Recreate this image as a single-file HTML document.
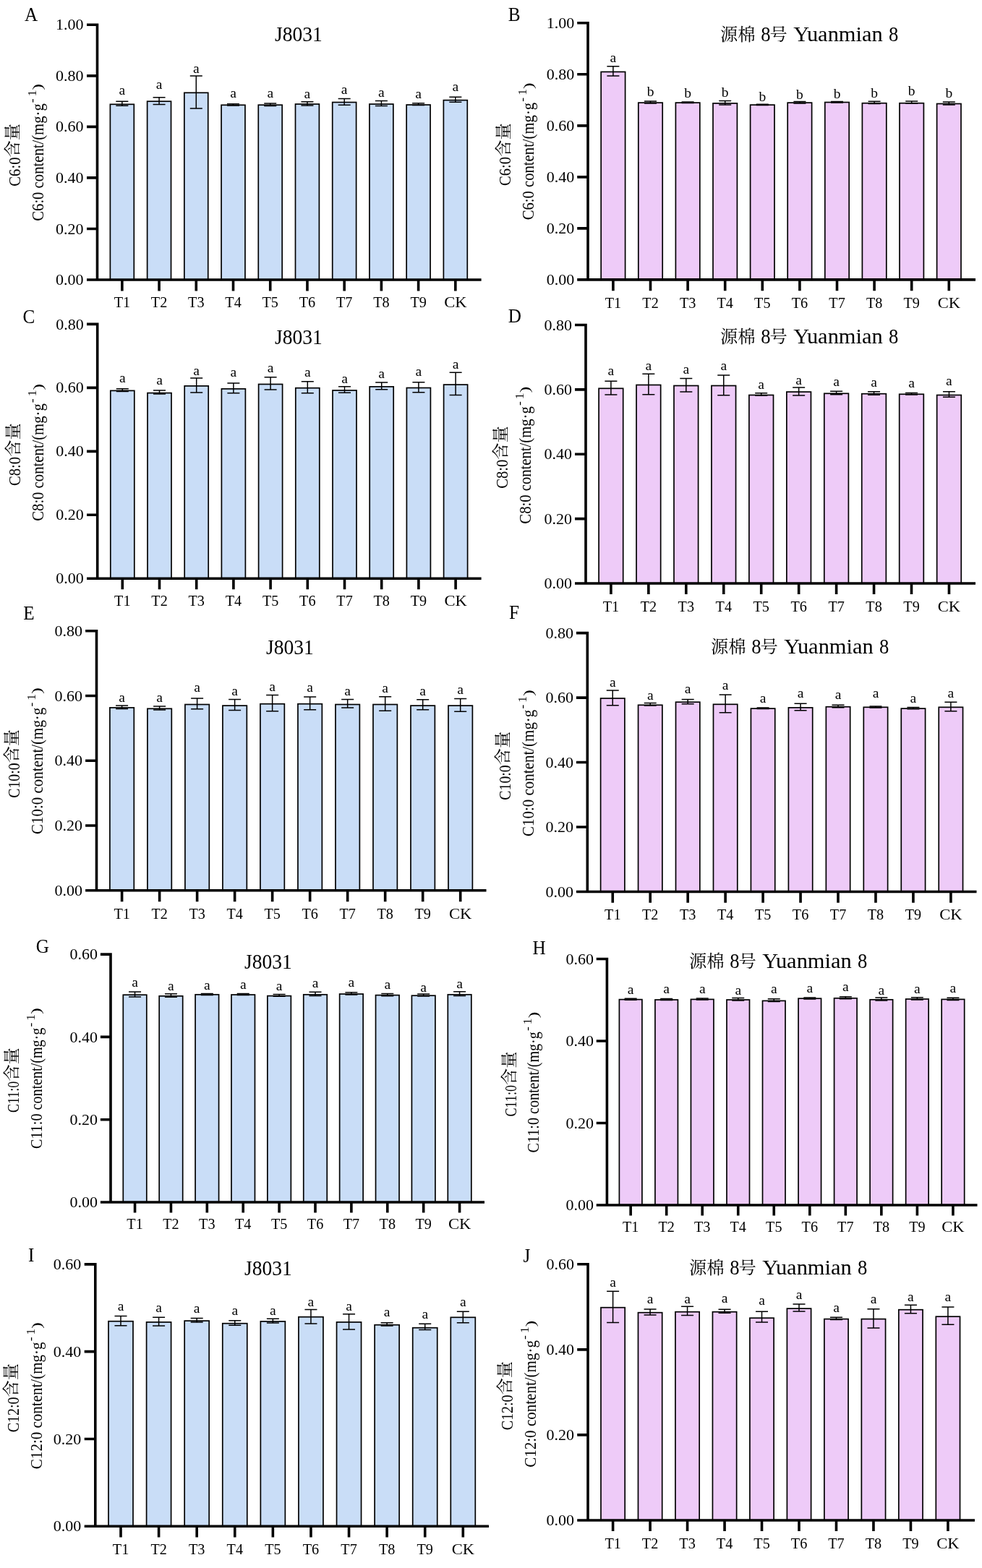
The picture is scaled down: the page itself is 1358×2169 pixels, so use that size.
<!DOCTYPE html>
<html lang="zh"><head><meta charset="utf-8"><title>Fatty acid content of J8031 and Yuanmian 8</title>
<style>html,body{margin:0;padding:0;background:#fff}body{width:1358px;height:2169px;overflow:hidden}svg{display:block;will-change:transform;font-family:"Liberation Serif","Noto Serif CJK SC",serif;fill:#000}.l{fill:none;stroke:#000}</style></head><body>
<svg width="1358" height="2169" viewBox="0 0 1358 2169" role="img" aria-label="Bar charts A-J: C6:0, C8:0, C10:0, C11:0, C12:0 content (mg/g) for J8031 and Yuanmian 8 under treatments T1-T9 and CK">
<g id="pA">
<g fill="#c9ddf7" stroke="#000" stroke-width="1.7">
<rect x="152.4" y="144.3" width="32.9" height="242.7"/>
<rect x="203.62" y="140.2" width="32.9" height="246.8"/>
<rect x="254.84" y="128.3" width="32.9" height="258.7"/>
<rect x="306.06" y="145.3" width="32.9" height="241.7"/>
<rect x="357.28" y="145.2" width="32.9" height="241.8"/>
<rect x="408.5" y="144" width="32.9" height="243"/>
<rect x="459.72" y="141.5" width="32.9" height="245.5"/>
<rect x="510.94" y="144" width="32.9" height="243"/>
<rect x="562.16" y="145" width="32.9" height="242"/>
<rect x="613.38" y="138.6" width="32.9" height="248.4"/>
</g>
<path class="l" d="M160.35 140.2H177.35M160.35 146.3H177.35M168.85 140.2V146.3M211.57 134.7H228.57M211.57 144.6H228.57M220.07 134.7V144.6M262.79 104.9H279.79M262.79 150H279.79M271.29 104.9V150M314.01 143.8H331.01M314.01 146H331.01M322.51 143.8V146M365.23 143H382.23M365.23 146.6H382.23M373.73 143V146.6M416.45 140.7H433.45M416.45 146H433.45M424.95 140.7V146M467.67 136.5H484.67M467.67 145.2H484.67M476.17 136.5V145.2M518.89 139.4H535.89M518.89 146.6H535.89M527.39 139.4V146.6M570.11 142.75H587.11M570.11 145.6H587.11M578.61 142.75V145.6M621.33 134.2H638.33M621.33 141.2H638.33M629.83 134.2V141.2" stroke-width="1.5"/>
<path class="l" d="M134.5 32.5V388.8M120 387H665.6M120 34.3H134.5M120 104.84H134.5M120 175.38H134.5M120 245.92H134.5M120 316.46H134.5M168.85 387V402.4M220.07 387V402.4M271.29 387V402.4M322.51 387V402.4M373.73 387V402.4M424.95 387V402.4M476.17 387V402.4M527.39 387V402.4M578.61 387V402.4M629.83 387V402.4" stroke-width="3.6"/>
<text transform="translate(115.6 41.4)" font-size="22" text-anchor="end">1.00</text>
<text transform="translate(115.6 111.94)" font-size="22" text-anchor="end">0.80</text>
<text transform="translate(115.6 182.48)" font-size="22" text-anchor="end">0.60</text>
<text transform="translate(115.6 253.02)" font-size="22" text-anchor="end">0.40</text>
<text transform="translate(115.6 323.56)" font-size="22" text-anchor="end">0.20</text>
<text transform="translate(115.6 394.1)" font-size="22" text-anchor="end">0.00</text>
<text transform="translate(168.85 425.4) scale(0.94 1)" font-size="21.5" text-anchor="middle">T1</text>
<text transform="translate(220.07 425.4) scale(0.94 1)" font-size="21.5" text-anchor="middle">T2</text>
<text transform="translate(271.29 425.4) scale(0.94 1)" font-size="21.5" text-anchor="middle">T3</text>
<text transform="translate(322.51 425.4) scale(0.94 1)" font-size="21.5" text-anchor="middle">T4</text>
<text transform="translate(373.73 425.4) scale(0.94 1)" font-size="21.5" text-anchor="middle">T5</text>
<text transform="translate(424.95 425.4) scale(0.94 1)" font-size="21.5" text-anchor="middle">T6</text>
<text transform="translate(476.17 425.4) scale(0.94 1)" font-size="21.5" text-anchor="middle">T7</text>
<text transform="translate(527.39 425.4) scale(0.94 1)" font-size="21.5" text-anchor="middle">T8</text>
<text transform="translate(578.61 425.4) scale(0.94 1)" font-size="21.5" text-anchor="middle">T9</text>
<text transform="translate(629.83 425.4) scale(1.05 1)" font-size="21.5" text-anchor="middle">CK</text>
<text transform="translate(168.85 131.3)" font-size="19.5" text-anchor="middle">a</text>
<text transform="translate(220.07 123.3)" font-size="19.5" text-anchor="middle">a</text>
<text transform="translate(271.29 100.9)" font-size="19.5" text-anchor="middle">a</text>
<text transform="translate(322.51 134.7)" font-size="19.5" text-anchor="middle">a</text>
<text transform="translate(373.73 135.3)" font-size="19.5" text-anchor="middle">a</text>
<text transform="translate(424.95 136)" font-size="19.5" text-anchor="middle">a</text>
<text transform="translate(476.17 129.7)" font-size="19.5" text-anchor="middle">a</text>
<text transform="translate(527.39 134)" font-size="19.5" text-anchor="middle">a</text>
<text transform="translate(578.61 135.5)" font-size="19.5" text-anchor="middle">a</text>
<text transform="translate(629.83 125.6)" font-size="19.5" text-anchor="middle">a</text>
<text transform="translate(34.1 29) scale(0.9 1)" font-size="28">A</text>
<text transform="translate(413 57) scale(0.95 1)" font-size="29" text-anchor="middle">J8031</text>
<g transform="translate(27.5 214.2) rotate(-90)">
<text transform="translate(-43.45 0)" font-size="23.5" textLength="40.1" lengthAdjust="spacingAndGlyphs">C6:0</text>
<text transform="translate(-3.25 -2.2)" font-size="23.2">含</text>
<text transform="translate(19.95 -2.2)" font-size="23.2">量</text>
</g>
<g transform="translate(59.7 211.4) rotate(-90)">
<text transform="translate(-94.35 0)" font-size="23.5" textLength="162.5" lengthAdjust="spacingAndGlyphs">C6:0 content/(mg·g</text>
<text transform="translate(69.25 -10)" font-size="17.5">-</text>
<text transform="translate(78.15 -10)" font-size="17.5">1</text>
<text transform="translate(86.95 -1.5) scale(1.4 1)" font-size="18.5">)</text>
</g>
</g>
<g id="pB">
<g fill="#eecbf8" stroke="#000" stroke-width="1.7">
<rect x="831.2" y="99.4" width="33.4" height="287.5"/>
<rect x="882.8" y="142.1" width="33.4" height="244.8"/>
<rect x="934.4" y="142.1" width="33.4" height="244.8"/>
<rect x="986" y="142.9" width="33.4" height="244"/>
<rect x="1037.6" y="145.1" width="33.4" height="241.8"/>
<rect x="1089.2" y="142.1" width="33.4" height="244.8"/>
<rect x="1140.8" y="141.5" width="33.4" height="245.4"/>
<rect x="1192.4" y="142.7" width="33.4" height="244.2"/>
<rect x="1244" y="142.7" width="33.4" height="244.2"/>
<rect x="1295.6" y="143.5" width="33.4" height="243.4"/>
</g>
<path class="l" d="M839.4 91.8H856.4M839.4 105.1H856.4M847.9 91.8V105.1M891 139.9H908M891 143H908M899.5 139.9V143M942.6 141.1H959.6M942.6 142.5H959.6M951.1 141.1V142.5M994.2 139.5H1011.2M994.2 144.9H1011.2M1002.7 139.5V144.9M1045.8 144.3H1062.8M1045.8 145.5H1062.8M1054.3 144.3V145.5M1097.4 140.5H1114.4M1097.4 143H1114.4M1105.9 140.5V143M1149 140.5H1166M1149 142H1166M1157.5 140.5V142M1200.6 140.3H1217.6M1200.6 143.5H1217.6M1209.1 140.3V143.5M1252.2 139.9H1269.2M1252.2 143.1H1269.2M1260.7 139.9V143.1M1303.8 140.9H1320.8M1303.8 144.9H1320.8M1312.3 140.9V144.9" stroke-width="1.5"/>
<path class="l" d="M813 30V388.7M798.2 386.9H1349M798.2 31.8H813M798.2 102.82H813M798.2 173.84H813M798.2 244.86H813M798.2 315.88H813M847.9 386.9V402.25M899.5 386.9V402.25M951.1 386.9V402.25M1002.7 386.9V402.25M1054.3 386.9V402.25M1105.9 386.9V402.25M1157.5 386.9V402.25M1209.1 386.9V402.25M1260.7 386.9V402.25M1312.3 386.9V402.25" stroke-width="3.6"/>
<text transform="translate(794.2 38.9)" font-size="22" text-anchor="end">1.00</text>
<text transform="translate(794.2 109.92)" font-size="22" text-anchor="end">0.80</text>
<text transform="translate(794.2 180.94)" font-size="22" text-anchor="end">0.60</text>
<text transform="translate(794.2 251.96)" font-size="22" text-anchor="end">0.40</text>
<text transform="translate(794.2 322.98)" font-size="22" text-anchor="end">0.20</text>
<text transform="translate(794.2 394)" font-size="22" text-anchor="end">0.00</text>
<text transform="translate(847.9 425.6) scale(0.94 1)" font-size="21.5" text-anchor="middle">T1</text>
<text transform="translate(899.5 425.6) scale(0.94 1)" font-size="21.5" text-anchor="middle">T2</text>
<text transform="translate(951.1 425.6) scale(0.94 1)" font-size="21.5" text-anchor="middle">T3</text>
<text transform="translate(1002.7 425.6) scale(0.94 1)" font-size="21.5" text-anchor="middle">T4</text>
<text transform="translate(1054.3 425.6) scale(0.94 1)" font-size="21.5" text-anchor="middle">T5</text>
<text transform="translate(1105.9 425.6) scale(0.94 1)" font-size="21.5" text-anchor="middle">T6</text>
<text transform="translate(1157.5 425.6) scale(0.94 1)" font-size="21.5" text-anchor="middle">T7</text>
<text transform="translate(1209.1 425.6) scale(0.94 1)" font-size="21.5" text-anchor="middle">T8</text>
<text transform="translate(1260.7 425.6) scale(0.94 1)" font-size="21.5" text-anchor="middle">T9</text>
<text transform="translate(1312.3 425.6) scale(1.05 1)" font-size="21.5" text-anchor="middle">CK</text>
<text transform="translate(847.9 85.8)" font-size="19.5" text-anchor="middle">a</text>
<text transform="translate(899.5 132.6)" font-size="19.5" text-anchor="middle">b</text>
<text transform="translate(951.1 134.6)" font-size="19.5" text-anchor="middle">b</text>
<text transform="translate(1002.7 133.6)" font-size="19.5" text-anchor="middle">b</text>
<text transform="translate(1054.3 140.1)" font-size="19.5" text-anchor="middle">b</text>
<text transform="translate(1105.9 137.1)" font-size="19.5" text-anchor="middle">b</text>
<text transform="translate(1157.5 136.1)" font-size="19.5" text-anchor="middle">b</text>
<text transform="translate(1209.1 135.1)" font-size="19.5" text-anchor="middle">b</text>
<text transform="translate(1260.7 132.2)" font-size="19.5" text-anchor="middle">b</text>
<text transform="translate(1312.3 135.1)" font-size="19.5" text-anchor="middle">b</text>
<text transform="translate(702.8 28.75) scale(0.9 1)" font-size="28">B</text>
<text transform="translate(996 55.5)" font-size="24.3">源</text>
<text transform="translate(1020.3 55.5)" font-size="24.3">棉</text>
<text transform="translate(1052.2 56.7) scale(0.92 1)" font-size="29">8</text>
<text transform="translate(1064.6 55.5)" font-size="24.3">号</text>
<text transform="translate(1097.3 56.7) scale(1.05 1)" font-size="29">Yuanmian</text>
<text transform="translate(1229 56.7) scale(0.92 1)" font-size="29">8</text>
<g transform="translate(706 213.5) rotate(-90)">
<text transform="translate(-43.45 0)" font-size="23.5" textLength="40.1" lengthAdjust="spacingAndGlyphs">C6:0</text>
<text transform="translate(-3.25 -2.2)" font-size="23.2">含</text>
<text transform="translate(19.95 -2.2)" font-size="23.2">量</text>
</g>
<g transform="translate(738.1 210) rotate(-90)">
<text transform="translate(-94.35 0)" font-size="23.5" textLength="162.5" lengthAdjust="spacingAndGlyphs">C6:0 content/(mg·g</text>
<text transform="translate(69.25 -10)" font-size="17.5">-</text>
<text transform="translate(78.15 -10)" font-size="17.5">1</text>
<text transform="translate(86.95 -1.5) scale(1.4 1)" font-size="18.5">)</text>
</g>
</g>
<g id="pC">
<g fill="#c9ddf7" stroke="#000" stroke-width="1.7">
<rect x="152.8" y="540.4" width="33" height="259.9"/>
<rect x="204" y="543.6" width="33" height="256.7"/>
<rect x="255.2" y="533.9" width="33" height="266.4"/>
<rect x="306.4" y="537.9" width="33" height="262.4"/>
<rect x="357.6" y="531.5" width="33" height="268.8"/>
<rect x="408.8" y="536.7" width="33" height="263.6"/>
<rect x="460" y="540" width="33" height="260.3"/>
<rect x="511.2" y="534.9" width="33" height="265.4"/>
<rect x="562.4" y="536.5" width="33" height="263.8"/>
<rect x="613.6" y="532.1" width="33" height="268.2"/>
</g>
<path class="l" d="M160.8 537.7H177.8M160.8 541.5H177.8M169.3 537.7V541.5M212 540H229M212 545H229M220.5 540V545M263.2 522.9H280.2M263.2 543H280.2M271.7 522.9V543M314.4 530.1H331.4M314.4 543.8H331.4M322.9 530.1V543.8M365.6 521.7H382.6M365.6 539H382.6M374.1 521.7V539M416.8 527.7H433.8M416.8 543.8H433.8M425.3 527.7V543.8M468 534.7H485M468 543.2H485M476.5 534.7V543.2M519.2 528.9H536.2M519.2 538.8H536.2M527.7 528.9V538.8M570.4 528.7H587.4M570.4 542.8H587.4M578.9 528.7V542.8M621.6 515.2H638.6M621.6 546.6H638.6M630.1 515.2V546.6" stroke-width="1.5"/>
<path class="l" d="M134.7 446.6V802.1M120 800.3H665.6M120 448.4H134.7M120 536.38H134.7M120 624.35H134.7M120 712.32H134.7M169.3 800.3V815.25M220.5 800.3V815.25M271.7 800.3V815.25M322.9 800.3V815.25M374.1 800.3V815.25M425.3 800.3V815.25M476.5 800.3V815.25M527.7 800.3V815.25M578.9 800.3V815.25M630.1 800.3V815.25" stroke-width="3.6"/>
<text transform="translate(115.8 455.5)" font-size="22" text-anchor="end">0.80</text>
<text transform="translate(115.8 543.48)" font-size="22" text-anchor="end">0.60</text>
<text transform="translate(115.8 631.45)" font-size="22" text-anchor="end">0.40</text>
<text transform="translate(115.8 719.42)" font-size="22" text-anchor="end">0.20</text>
<text transform="translate(115.8 807.4)" font-size="22" text-anchor="end">0.00</text>
<text transform="translate(169.3 838.4) scale(0.94 1)" font-size="21.5" text-anchor="middle">T1</text>
<text transform="translate(220.5 838.4) scale(0.94 1)" font-size="21.5" text-anchor="middle">T2</text>
<text transform="translate(271.7 838.4) scale(0.94 1)" font-size="21.5" text-anchor="middle">T3</text>
<text transform="translate(322.9 838.4) scale(0.94 1)" font-size="21.5" text-anchor="middle">T4</text>
<text transform="translate(374.1 838.4) scale(0.94 1)" font-size="21.5" text-anchor="middle">T5</text>
<text transform="translate(425.3 838.4) scale(0.94 1)" font-size="21.5" text-anchor="middle">T6</text>
<text transform="translate(476.5 838.4) scale(0.94 1)" font-size="21.5" text-anchor="middle">T7</text>
<text transform="translate(527.7 838.4) scale(0.94 1)" font-size="21.5" text-anchor="middle">T8</text>
<text transform="translate(578.9 838.4) scale(0.94 1)" font-size="21.5" text-anchor="middle">T9</text>
<text transform="translate(630.1 838.4) scale(1.05 1)" font-size="21.5" text-anchor="middle">CK</text>
<text transform="translate(169.3 528.7)" font-size="19.5" text-anchor="middle">a</text>
<text transform="translate(220.5 532.3)" font-size="19.5" text-anchor="middle">a</text>
<text transform="translate(271.7 518.8)" font-size="19.5" text-anchor="middle">a</text>
<text transform="translate(322.9 521.4)" font-size="19.5" text-anchor="middle">a</text>
<text transform="translate(374.1 515.2)" font-size="19.5" text-anchor="middle">a</text>
<text transform="translate(425.3 521.4)" font-size="19.5" text-anchor="middle">a</text>
<text transform="translate(476.5 530.3)" font-size="19.5" text-anchor="middle">a</text>
<text transform="translate(527.7 523.1)" font-size="19.5" text-anchor="middle">a</text>
<text transform="translate(578.9 520.4)" font-size="19.5" text-anchor="middle">a</text>
<text transform="translate(630.1 509.8)" font-size="19.5" text-anchor="middle">a</text>
<text transform="translate(31.6 446.6) scale(0.9 1)" font-size="28">C</text>
<text transform="translate(413 476) scale(0.95 1)" font-size="29" text-anchor="middle">J8031</text>
<g transform="translate(28.1 628.5) rotate(-90)">
<text transform="translate(-43.45 0)" font-size="23.5" textLength="40.1" lengthAdjust="spacingAndGlyphs">C8:0</text>
<text transform="translate(-3.25 -2.2)" font-size="23.2">含</text>
<text transform="translate(19.95 -2.2)" font-size="23.2">量</text>
</g>
<g transform="translate(60.4 626.4) rotate(-90)">
<text transform="translate(-94.35 0)" font-size="23.5" textLength="162.5" lengthAdjust="spacingAndGlyphs">C8:0 content/(mg·g</text>
<text transform="translate(69.25 -10)" font-size="17.5">-</text>
<text transform="translate(78.15 -10)" font-size="17.5">1</text>
<text transform="translate(86.95 -1.5) scale(1.4 1)" font-size="18.5">)</text>
</g>
</g>
<g id="pD">
<g fill="#eecbf8" stroke="#000" stroke-width="1.7">
<rect x="828.1" y="537.3" width="33.6" height="269.7"/>
<rect x="880.05" y="532.5" width="33.6" height="274.5"/>
<rect x="932" y="533.5" width="33.6" height="273.5"/>
<rect x="983.95" y="533.5" width="33.6" height="273.5"/>
<rect x="1035.9" y="546.5" width="33.6" height="260.5"/>
<rect x="1087.85" y="542.1" width="33.6" height="264.9"/>
<rect x="1139.8" y="544.3" width="33.6" height="262.7"/>
<rect x="1191.75" y="544.7" width="33.6" height="262.3"/>
<rect x="1243.7" y="545.3" width="33.6" height="261.7"/>
<rect x="1295.65" y="546.5" width="33.6" height="260.5"/>
</g>
<path class="l" d="M836.4 527.2H853.4M836.4 546.1H853.4M844.9 527.2V546.1M888.35 517.2H905.35M888.35 545.7H905.35M896.85 517.2V545.7M940.3 523.4H957.3M940.3 542.1H957.3M948.8 523.4V542.1M992.25 519H1009.25M992.25 546.7H1009.25M1000.75 519V546.7M1044.2 543.7H1061.2M1044.2 547.3H1061.2M1052.7 543.7V547.3M1096.15 536.1H1113.15M1096.15 546.9H1113.15M1104.65 536.1V546.9M1148.1 541.3H1165.1M1148.1 545.7H1165.1M1156.6 541.3V545.7M1200.05 541.7H1217.05M1200.05 546.3H1217.05M1208.55 541.7V546.3M1252 543.5H1269M1252 546H1269M1260.5 543.5V546M1303.95 541.7H1320.95M1303.95 549.2H1320.95M1312.45 541.7V549.2" stroke-width="1.5"/>
<path class="l" d="M810 447.7V808.8M795 807H1349M795 449.5H810M795 538.88H810M795 628.25H810M795 717.62H810M844.9 807V822.1M896.85 807V822.1M948.8 807V822.1M1000.75 807V822.1M1052.7 807V822.1M1104.65 807V822.1M1156.6 807V822.1M1208.55 807V822.1M1260.5 807V822.1M1312.45 807V822.1" stroke-width="3.6"/>
<text transform="translate(791 456.6)" font-size="22" text-anchor="end">0.80</text>
<text transform="translate(791 545.98)" font-size="22" text-anchor="end">0.60</text>
<text transform="translate(791 635.35)" font-size="22" text-anchor="end">0.40</text>
<text transform="translate(791 724.73)" font-size="22" text-anchor="end">0.20</text>
<text transform="translate(791 814.1)" font-size="22" text-anchor="end">0.00</text>
<text transform="translate(844.9 845.6) scale(0.94 1)" font-size="21.5" text-anchor="middle">T1</text>
<text transform="translate(896.85 845.6) scale(0.94 1)" font-size="21.5" text-anchor="middle">T2</text>
<text transform="translate(948.8 845.6) scale(0.94 1)" font-size="21.5" text-anchor="middle">T3</text>
<text transform="translate(1000.75 845.6) scale(0.94 1)" font-size="21.5" text-anchor="middle">T4</text>
<text transform="translate(1052.7 845.6) scale(0.94 1)" font-size="21.5" text-anchor="middle">T5</text>
<text transform="translate(1104.65 845.6) scale(0.94 1)" font-size="21.5" text-anchor="middle">T6</text>
<text transform="translate(1156.6 845.6) scale(0.94 1)" font-size="21.5" text-anchor="middle">T7</text>
<text transform="translate(1208.55 845.6) scale(0.94 1)" font-size="21.5" text-anchor="middle">T8</text>
<text transform="translate(1260.5 845.6) scale(0.94 1)" font-size="21.5" text-anchor="middle">T9</text>
<text transform="translate(1312.45 845.6) scale(1.05 1)" font-size="21.5" text-anchor="middle">CK</text>
<text transform="translate(844.9 518.8)" font-size="19.5" text-anchor="middle">a</text>
<text transform="translate(896.85 511.9)" font-size="19.5" text-anchor="middle">a</text>
<text transform="translate(948.8 517.2)" font-size="19.5" text-anchor="middle">a</text>
<text transform="translate(1000.75 511.5)" font-size="19.5" text-anchor="middle">a</text>
<text transform="translate(1052.7 538.3)" font-size="19.5" text-anchor="middle">a</text>
<text transform="translate(1104.65 531.7)" font-size="19.5" text-anchor="middle">a</text>
<text transform="translate(1156.6 533.7)" font-size="19.5" text-anchor="middle">a</text>
<text transform="translate(1208.55 534.7)" font-size="19.5" text-anchor="middle">a</text>
<text transform="translate(1260.5 535.7)" font-size="19.5" text-anchor="middle">a</text>
<text transform="translate(1312.45 532.7)" font-size="19.5" text-anchor="middle">a</text>
<text transform="translate(702.8 445.9) scale(0.9 1)" font-size="28">D</text>
<text transform="translate(996 473.8)" font-size="24.3">源</text>
<text transform="translate(1020.3 473.8)" font-size="24.3">棉</text>
<text transform="translate(1052.2 475) scale(0.92 1)" font-size="29">8</text>
<text transform="translate(1064.6 473.8)" font-size="24.3">号</text>
<text transform="translate(1097.3 475) scale(1.05 1)" font-size="29">Yuanmian</text>
<text transform="translate(1229 475) scale(0.92 1)" font-size="29">8</text>
<g transform="translate(701.7 632.4) rotate(-90)">
<text transform="translate(-43.45 0)" font-size="23.5" textLength="40.1" lengthAdjust="spacingAndGlyphs">C8:0</text>
<text transform="translate(-3.25 -2.2)" font-size="23.2">含</text>
<text transform="translate(19.95 -2.2)" font-size="23.2">量</text>
</g>
<g transform="translate(733.9 630.3) rotate(-90)">
<text transform="translate(-94.35 0)" font-size="23.5" textLength="162.5" lengthAdjust="spacingAndGlyphs">C8:0 content/(mg·g</text>
<text transform="translate(69.25 -10)" font-size="17.5">-</text>
<text transform="translate(78.15 -10)" font-size="17.5">1</text>
<text transform="translate(86.95 -1.5) scale(1.4 1)" font-size="18.5">)</text>
</g>
</g>
<g id="pE">
<g fill="#c9ddf7" stroke="#000" stroke-width="1.7">
<rect x="151.9" y="978.9" width="33.4" height="252.9"/>
<rect x="203.91" y="980.3" width="33.4" height="251.5"/>
<rect x="255.92" y="974.5" width="33.4" height="257.3"/>
<rect x="307.93" y="976.1" width="33.4" height="255.7"/>
<rect x="359.94" y="973.7" width="33.4" height="258.1"/>
<rect x="411.95" y="973.7" width="33.4" height="258.1"/>
<rect x="463.96" y="974.5" width="33.4" height="257.3"/>
<rect x="515.97" y="974.5" width="33.4" height="257.3"/>
<rect x="567.98" y="976.1" width="33.4" height="255.7"/>
<rect x="619.99" y="976.1" width="33.4" height="255.7"/>
</g>
<path class="l" d="M160.1 976.1H177.1M160.1 980.5H177.1M168.6 976.1V980.5M212.11 976.9H229.11M212.11 982H229.11M220.61 976.9V982M264.12 966H281.12M264.12 980.7H281.12M272.62 966V980.7M316.13 967.4H333.13M316.13 982.5H333.13M324.63 967.4V982.5M368.14 961.4H385.14M368.14 983.7H385.14M376.64 961.4V983.7M420.15 964H437.15M420.15 981.7H437.15M428.65 964V981.7M472.16 967.4H489.16M472.16 979.1H489.16M480.66 967.4V979.1M524.17 963.8H541.17M524.17 983.3H541.17M532.67 963.8V983.3M576.18 967.8H593.18M576.18 981.7H593.18M584.68 967.8V981.7M628.19 966.4H645.19M628.19 984.3H645.19M636.69 966.4V984.3" stroke-width="1.5"/>
<path class="l" d="M133.5 871V1233.6M118.1 1231.8H672.5M118.1 872.8H133.5M118.1 962.55H133.5M118.1 1052.3H133.5M118.1 1142.05H133.5M168.6 1231.8V1247.25M220.61 1231.8V1247.25M272.62 1231.8V1247.25M324.63 1231.8V1247.25M376.64 1231.8V1247.25M428.65 1231.8V1247.25M480.66 1231.8V1247.25M532.67 1231.8V1247.25M584.68 1231.8V1247.25M636.69 1231.8V1247.25" stroke-width="3.6"/>
<text transform="translate(114.1 879.9)" font-size="22" text-anchor="end">0.80</text>
<text transform="translate(114.1 969.65)" font-size="22" text-anchor="end">0.60</text>
<text transform="translate(114.1 1059.4)" font-size="22" text-anchor="end">0.40</text>
<text transform="translate(114.1 1149.15)" font-size="22" text-anchor="end">0.20</text>
<text transform="translate(114.1 1238.9)" font-size="22" text-anchor="end">0.00</text>
<text transform="translate(168.6 1270.6) scale(0.94 1)" font-size="21.5" text-anchor="middle">T1</text>
<text transform="translate(220.61 1270.6) scale(0.94 1)" font-size="21.5" text-anchor="middle">T2</text>
<text transform="translate(272.62 1270.6) scale(0.94 1)" font-size="21.5" text-anchor="middle">T3</text>
<text transform="translate(324.63 1270.6) scale(0.94 1)" font-size="21.5" text-anchor="middle">T4</text>
<text transform="translate(376.64 1270.6) scale(0.94 1)" font-size="21.5" text-anchor="middle">T5</text>
<text transform="translate(428.65 1270.6) scale(0.94 1)" font-size="21.5" text-anchor="middle">T6</text>
<text transform="translate(480.66 1270.6) scale(0.94 1)" font-size="21.5" text-anchor="middle">T7</text>
<text transform="translate(532.67 1270.6) scale(0.94 1)" font-size="21.5" text-anchor="middle">T8</text>
<text transform="translate(584.68 1270.6) scale(0.94 1)" font-size="21.5" text-anchor="middle">T9</text>
<text transform="translate(636.69 1270.6) scale(1.05 1)" font-size="21.5" text-anchor="middle">CK</text>
<text transform="translate(168.6 970.8)" font-size="19.5" text-anchor="middle">a</text>
<text transform="translate(220.61 970.8)" font-size="19.5" text-anchor="middle">a</text>
<text transform="translate(272.62 957.2)" font-size="19.5" text-anchor="middle">a</text>
<text transform="translate(324.63 962.2)" font-size="19.5" text-anchor="middle">a</text>
<text transform="translate(376.64 955.8)" font-size="19.5" text-anchor="middle">a</text>
<text transform="translate(428.65 957.2)" font-size="19.5" text-anchor="middle">a</text>
<text transform="translate(480.66 961.8)" font-size="19.5" text-anchor="middle">a</text>
<text transform="translate(532.67 957.8)" font-size="19.5" text-anchor="middle">a</text>
<text transform="translate(584.68 961.8)" font-size="19.5" text-anchor="middle">a</text>
<text transform="translate(636.69 959.8)" font-size="19.5" text-anchor="middle">a</text>
<text transform="translate(32.2 856.6) scale(0.9 1)" font-size="28">E</text>
<text transform="translate(401 905) scale(0.95 1)" font-size="29" text-anchor="middle">J8031</text>
<g transform="translate(26.5 1056.2) rotate(-90)">
<text transform="translate(-47.55 0)" font-size="23.5" textLength="48.3" lengthAdjust="spacingAndGlyphs">C10:0</text>
<text transform="translate(0.85 -2.2)" font-size="23.2">含</text>
<text transform="translate(24.05 -2.2)" font-size="23.2">量</text>
</g>
<g transform="translate(58.9 1053.2) rotate(-90)">
<text transform="translate(-100.75 0)" font-size="23.5" textLength="175.3" lengthAdjust="spacingAndGlyphs">C10:0 content/(mg·g</text>
<text transform="translate(75.65 -10)" font-size="17.5">-</text>
<text transform="translate(84.55 -10)" font-size="17.5">1</text>
<text transform="translate(93.35 -1.5) scale(1.4 1)" font-size="18.5">)</text>
</g>
</g>
<g id="pF">
<g fill="#eecbf8" stroke="#000" stroke-width="1.7">
<rect x="830.6" y="966" width="33.3" height="267.5"/>
<rect x="882.56" y="975.3" width="33.3" height="258.2"/>
<rect x="934.52" y="971.2" width="33.3" height="262.3"/>
<rect x="986.48" y="974.3" width="33.3" height="259.2"/>
<rect x="1038.44" y="980.1" width="33.3" height="253.4"/>
<rect x="1090.4" y="978.9" width="33.3" height="254.6"/>
<rect x="1142.36" y="977.7" width="33.3" height="255.8"/>
<rect x="1194.32" y="978.3" width="33.3" height="255.2"/>
<rect x="1246.28" y="980.1" width="33.3" height="253.4"/>
<rect x="1298.24" y="978.3" width="33.3" height="255.2"/>
</g>
<path class="l" d="M838.75 954.9H855.75M838.75 975.7H855.75M847.25 954.9V975.7M890.71 972.5H907.71M890.71 976.1H907.71M899.21 972.5V976.1M942.67 967.4H959.67M942.67 973.7H959.67M951.17 967.4V973.7M994.63 961H1011.63M994.63 985.7H1011.63M1003.13 961V985.7M1046.59 979.1H1063.59M1046.59 980.5H1063.59M1055.09 979.1V980.5M1098.55 973.3H1115.55M1098.55 982.7H1115.55M1107.05 973.3V982.7M1150.51 975.3H1167.51M1150.51 978.7H1167.51M1159.01 975.3V978.7M1202.47 976.9H1219.47M1202.47 979H1219.47M1210.97 976.9V979M1254.43 978.5H1271.43M1254.43 980.8H1271.43M1262.93 978.5V980.8M1306.39 971.2H1323.39M1306.39 983.7H1323.39M1314.89 971.2V983.7" stroke-width="1.5"/>
<path class="l" d="M812.3 873.8V1235.3M796.9 1233.5H1350.5M796.9 875.6H812.3M796.9 965.08H812.3M796.9 1054.55H812.3M796.9 1144.03H812.3M847.25 1233.5V1248.75M899.21 1233.5V1248.75M951.17 1233.5V1248.75M1003.13 1233.5V1248.75M1055.09 1233.5V1248.75M1107.05 1233.5V1248.75M1159.01 1233.5V1248.75M1210.97 1233.5V1248.75M1262.93 1233.5V1248.75M1314.89 1233.5V1248.75" stroke-width="3.6"/>
<text transform="translate(793 882.7)" font-size="22" text-anchor="end">0.80</text>
<text transform="translate(793 972.18)" font-size="22" text-anchor="end">0.60</text>
<text transform="translate(793 1061.65)" font-size="22" text-anchor="end">0.40</text>
<text transform="translate(793 1151.12)" font-size="22" text-anchor="end">0.20</text>
<text transform="translate(793 1240.6)" font-size="22" text-anchor="end">0.00</text>
<text transform="translate(847.25 1272.1) scale(0.94 1)" font-size="21.5" text-anchor="middle">T1</text>
<text transform="translate(899.21 1272.1) scale(0.94 1)" font-size="21.5" text-anchor="middle">T2</text>
<text transform="translate(951.17 1272.1) scale(0.94 1)" font-size="21.5" text-anchor="middle">T3</text>
<text transform="translate(1003.13 1272.1) scale(0.94 1)" font-size="21.5" text-anchor="middle">T4</text>
<text transform="translate(1055.09 1272.1) scale(0.94 1)" font-size="21.5" text-anchor="middle">T5</text>
<text transform="translate(1107.05 1272.1) scale(0.94 1)" font-size="21.5" text-anchor="middle">T6</text>
<text transform="translate(1159.01 1272.1) scale(0.94 1)" font-size="21.5" text-anchor="middle">T7</text>
<text transform="translate(1210.97 1272.1) scale(0.94 1)" font-size="21.5" text-anchor="middle">T8</text>
<text transform="translate(1262.93 1272.1) scale(0.94 1)" font-size="21.5" text-anchor="middle">T9</text>
<text transform="translate(1314.89 1272.1) scale(1.05 1)" font-size="21.5" text-anchor="middle">CK</text>
<text transform="translate(847.25 949.9)" font-size="19.5" text-anchor="middle">a</text>
<text transform="translate(899.21 967.8)" font-size="19.5" text-anchor="middle">a</text>
<text transform="translate(951.17 958.8)" font-size="19.5" text-anchor="middle">a</text>
<text transform="translate(1003.13 954.3)" font-size="19.5" text-anchor="middle">a</text>
<text transform="translate(1055.09 972.3)" font-size="19.5" text-anchor="middle">a</text>
<text transform="translate(1107.05 965.4)" font-size="19.5" text-anchor="middle">a</text>
<text transform="translate(1159.01 966.8)" font-size="19.5" text-anchor="middle">a</text>
<text transform="translate(1210.97 965.2)" font-size="19.5" text-anchor="middle">a</text>
<text transform="translate(1262.93 972.3)" font-size="19.5" text-anchor="middle">a</text>
<text transform="translate(1314.89 964.8)" font-size="19.5" text-anchor="middle">a</text>
<text transform="translate(704.1 856.25) scale(0.9 1)" font-size="28">F</text>
<text transform="translate(983 902.8)" font-size="24.3">源</text>
<text transform="translate(1007.3 902.8)" font-size="24.3">棉</text>
<text transform="translate(1039.2 904) scale(0.92 1)" font-size="29">8</text>
<text transform="translate(1051.6 902.8)" font-size="24.3">号</text>
<text transform="translate(1084.3 904) scale(1.05 1)" font-size="29">Yuanmian</text>
<text transform="translate(1216 904) scale(0.92 1)" font-size="29">8</text>
<g transform="translate(705.5 1059.1) rotate(-90)">
<text transform="translate(-47.55 0)" font-size="23.5" textLength="48.3" lengthAdjust="spacingAndGlyphs">C10:0</text>
<text transform="translate(0.85 -2.2)" font-size="23.2">含</text>
<text transform="translate(24.05 -2.2)" font-size="23.2">量</text>
</g>
<g transform="translate(738.1 1056.2) rotate(-90)">
<text transform="translate(-100.75 0)" font-size="23.5" textLength="175.3" lengthAdjust="spacingAndGlyphs">C10:0 content/(mg·g</text>
<text transform="translate(75.65 -10)" font-size="17.5">-</text>
<text transform="translate(84.55 -10)" font-size="17.5">1</text>
<text transform="translate(93.35 -1.5) scale(1.4 1)" font-size="18.5">)</text>
</g>
</g>
<g id="pG">
<g fill="#c9ddf7" stroke="#000" stroke-width="1.7">
<rect x="170.3" y="1376.2" width="32.5" height="286.8"/>
<rect x="220.19" y="1377.8" width="32.5" height="285.2"/>
<rect x="270.08" y="1375.8" width="32.5" height="287.2"/>
<rect x="319.97" y="1376" width="32.5" height="287"/>
<rect x="369.86" y="1377.6" width="32.5" height="285.4"/>
<rect x="419.75" y="1375.8" width="32.5" height="287.2"/>
<rect x="469.64" y="1375" width="32.5" height="288"/>
<rect x="519.53" y="1376.6" width="32.5" height="286.4"/>
<rect x="569.42" y="1377.2" width="32.5" height="285.8"/>
<rect x="619.31" y="1375.8" width="32.5" height="287.2"/>
</g>
<path class="l" d="M178.05 1372H195.05M178.05 1379H195.05M186.55 1372V1379M227.94 1374.8H244.94M227.94 1379.2H244.94M236.44 1374.8V1379.2M277.83 1374.4H294.83M277.83 1376.5H294.83M286.33 1374.4V1376.5M327.72 1374.6H344.72M327.72 1376.5H344.72M336.22 1374.6V1376.5M377.61 1375.4H394.61M377.61 1378.2H394.61M386.11 1375.4V1378.2M427.5 1372.2H444.5M427.5 1377.5H444.5M436 1372.2V1377.5M477.39 1372.8H494.39M477.39 1376H494.39M485.89 1372.8V1376M527.28 1374.6H544.28M527.28 1377.8H544.28M535.78 1374.6V1377.8M577.17 1375H594.17M577.17 1378H594.17M585.67 1375V1378M627.06 1371.8H644.06M627.06 1377.5H644.06M635.56 1371.8V1377.5" stroke-width="1.5"/>
<path class="l" d="M153 1318.3V1664.8M138.9 1663H670M138.9 1320.1H153M138.9 1434.4H153M138.9 1548.7H153M186.55 1663V1677.5M236.44 1663V1677.5M286.33 1663V1677.5M336.22 1663V1677.5M386.11 1663V1677.5M436 1663V1677.5M485.89 1663V1677.5M535.78 1663V1677.5M585.67 1663V1677.5M635.56 1663V1677.5" stroke-width="3.6"/>
<text transform="translate(135 1327.2)" font-size="22" text-anchor="end">0.60</text>
<text transform="translate(135 1441.5)" font-size="22" text-anchor="end">0.40</text>
<text transform="translate(135 1555.8)" font-size="22" text-anchor="end">0.20</text>
<text transform="translate(135 1670.1)" font-size="22" text-anchor="end">0.00</text>
<text transform="translate(186.55 1699.75) scale(0.94 1)" font-size="21.5" text-anchor="middle">T1</text>
<text transform="translate(236.44 1699.75) scale(0.94 1)" font-size="21.5" text-anchor="middle">T2</text>
<text transform="translate(286.33 1699.75) scale(0.94 1)" font-size="21.5" text-anchor="middle">T3</text>
<text transform="translate(336.22 1699.75) scale(0.94 1)" font-size="21.5" text-anchor="middle">T4</text>
<text transform="translate(386.11 1699.75) scale(0.94 1)" font-size="21.5" text-anchor="middle">T5</text>
<text transform="translate(436 1699.75) scale(0.94 1)" font-size="21.5" text-anchor="middle">T6</text>
<text transform="translate(485.89 1699.75) scale(0.94 1)" font-size="21.5" text-anchor="middle">T7</text>
<text transform="translate(535.78 1699.75) scale(0.94 1)" font-size="21.5" text-anchor="middle">T8</text>
<text transform="translate(585.67 1699.75) scale(0.94 1)" font-size="21.5" text-anchor="middle">T9</text>
<text transform="translate(635.56 1699.75) scale(1.05 1)" font-size="21.5" text-anchor="middle">CK</text>
<text transform="translate(186.55 1365.2)" font-size="19.5" text-anchor="middle">a</text>
<text transform="translate(236.44 1369.8)" font-size="19.5" text-anchor="middle">a</text>
<text transform="translate(286.33 1369.4)" font-size="19.5" text-anchor="middle">a</text>
<text transform="translate(336.22 1367.8)" font-size="19.5" text-anchor="middle">a</text>
<text transform="translate(386.11 1369.8)" font-size="19.5" text-anchor="middle">a</text>
<text transform="translate(436 1365.8)" font-size="19.5" text-anchor="middle">a</text>
<text transform="translate(485.89 1365.4)" font-size="19.5" text-anchor="middle">a</text>
<text transform="translate(535.78 1368.4)" font-size="19.5" text-anchor="middle">a</text>
<text transform="translate(585.67 1372.2)" font-size="19.5" text-anchor="middle">a</text>
<text transform="translate(635.56 1367.4)" font-size="19.5" text-anchor="middle">a</text>
<text transform="translate(49.7 1318.1) scale(0.9 1)" font-size="28">G</text>
<text transform="translate(371 1340) scale(0.95 1)" font-size="29" text-anchor="middle">J8031</text>
<g transform="translate(26.3 1494) rotate(-90)">
<text transform="translate(-45.1 0)" font-size="23.5" textLength="43.4" lengthAdjust="spacingAndGlyphs">C11:0</text>
<text transform="translate(-1.6 -2.2)" font-size="23.2">含</text>
<text transform="translate(21.6 -2.2)" font-size="23.2">量</text>
</g>
<g transform="translate(57.8 1492.2) rotate(-90)">
<text transform="translate(-96.75 0)" font-size="23.5" textLength="167.3" lengthAdjust="spacingAndGlyphs">C11:0 content/(mg·g</text>
<text transform="translate(71.65 -10)" font-size="17.5">-</text>
<text transform="translate(80.55 -10)" font-size="17.5">1</text>
<text transform="translate(89.35 -1.5) scale(1.4 1)" font-size="18.5">)</text>
</g>
</g>
<g id="pH">
<g fill="#eecbf8" stroke="#000" stroke-width="1.7">
<rect x="856.4" y="1382.6" width="31.5" height="284.4"/>
<rect x="905.93" y="1383" width="31.5" height="284"/>
<rect x="955.46" y="1382.4" width="31.5" height="284.6"/>
<rect x="1004.99" y="1383" width="31.5" height="284"/>
<rect x="1054.52" y="1384.4" width="31.5" height="282.6"/>
<rect x="1104.05" y="1381.2" width="31.5" height="285.8"/>
<rect x="1153.58" y="1380.8" width="31.5" height="286.2"/>
<rect x="1203.11" y="1382.8" width="31.5" height="284.2"/>
<rect x="1252.64" y="1382" width="31.5" height="285"/>
<rect x="1302.17" y="1382.4" width="31.5" height="284.6"/>
</g>
<path class="l" d="M863.65 1381.2H880.65M863.65 1383.2H880.65M872.15 1381.2V1383.2M913.18 1381.6H930.18M913.18 1383.6H930.18M921.68 1381.6V1383.6M962.71 1381H979.71M962.71 1383H979.71M971.21 1381V1383M1012.24 1380.6H1029.24M1012.24 1384H1029.24M1020.74 1380.6V1384M1061.77 1381.8H1078.77M1061.77 1385.4H1078.77M1070.27 1381.8V1385.4M1111.3 1380H1128.3M1111.3 1382H1128.3M1119.8 1380V1382M1160.83 1378.8H1177.83M1160.83 1381.8H1177.83M1169.33 1378.8V1381.8M1210.36 1380H1227.36M1210.36 1384H1227.36M1218.86 1380V1384M1259.89 1379.8H1276.89M1259.89 1383H1276.89M1268.39 1379.8V1383M1309.42 1380.2H1326.42M1309.42 1383.4H1326.42M1317.92 1380.2V1383.4" stroke-width="1.5"/>
<path class="l" d="M839.4 1324.7V1668.8M824.7 1667H1351.5M824.7 1326.5H839.4M824.7 1440H839.4M824.7 1553.5H839.4M872.15 1667V1681.5M921.68 1667V1681.5M971.21 1667V1681.5M1020.74 1667V1681.5M1070.27 1667V1681.5M1119.8 1667V1681.5M1169.33 1667V1681.5M1218.86 1667V1681.5M1268.39 1667V1681.5M1317.92 1667V1681.5" stroke-width="3.6"/>
<text transform="translate(821 1333.6)" font-size="22" text-anchor="end">0.60</text>
<text transform="translate(821 1447.1)" font-size="22" text-anchor="end">0.40</text>
<text transform="translate(821 1560.6)" font-size="22" text-anchor="end">0.20</text>
<text transform="translate(821 1674.1)" font-size="22" text-anchor="end">0.00</text>
<text transform="translate(872.15 1703.5) scale(0.94 1)" font-size="21.5" text-anchor="middle">T1</text>
<text transform="translate(921.68 1703.5) scale(0.94 1)" font-size="21.5" text-anchor="middle">T2</text>
<text transform="translate(971.21 1703.5) scale(0.94 1)" font-size="21.5" text-anchor="middle">T3</text>
<text transform="translate(1020.74 1703.5) scale(0.94 1)" font-size="21.5" text-anchor="middle">T4</text>
<text transform="translate(1070.27 1703.5) scale(0.94 1)" font-size="21.5" text-anchor="middle">T5</text>
<text transform="translate(1119.8 1703.5) scale(0.94 1)" font-size="21.5" text-anchor="middle">T6</text>
<text transform="translate(1169.33 1703.5) scale(0.94 1)" font-size="21.5" text-anchor="middle">T7</text>
<text transform="translate(1218.86 1703.5) scale(0.94 1)" font-size="21.5" text-anchor="middle">T8</text>
<text transform="translate(1268.39 1703.5) scale(0.94 1)" font-size="21.5" text-anchor="middle">T9</text>
<text transform="translate(1317.92 1703.5) scale(1.05 1)" font-size="21.5" text-anchor="middle">CK</text>
<text transform="translate(872.15 1374.5)" font-size="19.5" text-anchor="middle">a</text>
<text transform="translate(921.68 1374.3)" font-size="19.5" text-anchor="middle">a</text>
<text transform="translate(971.21 1374.3)" font-size="19.5" text-anchor="middle">a</text>
<text transform="translate(1020.74 1375.8)" font-size="19.5" text-anchor="middle">a</text>
<text transform="translate(1070.27 1374.3)" font-size="19.5" text-anchor="middle">a</text>
<text transform="translate(1119.8 1372.5)" font-size="19.5" text-anchor="middle">a</text>
<text transform="translate(1169.33 1371.3)" font-size="19.5" text-anchor="middle">a</text>
<text transform="translate(1218.86 1375.8)" font-size="19.5" text-anchor="middle">a</text>
<text transform="translate(1268.39 1373.9)" font-size="19.5" text-anchor="middle">a</text>
<text transform="translate(1317.92 1372.5)" font-size="19.5" text-anchor="middle">a</text>
<text transform="translate(736.6 1320) scale(0.9 1)" font-size="28">H</text>
<text transform="translate(953 1337.8)" font-size="24.3">源</text>
<text transform="translate(977.3 1337.8)" font-size="24.3">棉</text>
<text transform="translate(1009.2 1339) scale(0.92 1)" font-size="29">8</text>
<text transform="translate(1021.6 1337.8)" font-size="24.3">号</text>
<text transform="translate(1054.3 1339) scale(1.05 1)" font-size="29">Yuanmian</text>
<text transform="translate(1186 1339) scale(0.92 1)" font-size="29">8</text>
<g transform="translate(713.9 1499.3) rotate(-90)">
<text transform="translate(-45.1 0)" font-size="23.5" textLength="43.4" lengthAdjust="spacingAndGlyphs">C11:0</text>
<text transform="translate(-1.6 -2.2)" font-size="23.2">含</text>
<text transform="translate(21.6 -2.2)" font-size="23.2">量</text>
</g>
<g transform="translate(745.1 1497.7) rotate(-90)">
<text transform="translate(-96.75 0)" font-size="23.5" textLength="167.3" lengthAdjust="spacingAndGlyphs">C11:0 content/(mg·g</text>
<text transform="translate(71.65 -10)" font-size="17.5">-</text>
<text transform="translate(80.55 -10)" font-size="17.5">1</text>
<text transform="translate(89.35 -1.5) scale(1.4 1)" font-size="18.5">)</text>
</g>
</g>
<g id="pI">
<g fill="#c9ddf7" stroke="#000" stroke-width="1.7">
<rect x="150" y="1827.7" width="34" height="283.5"/>
<rect x="202.59" y="1828.9" width="34" height="282.3"/>
<rect x="255.18" y="1827.1" width="34" height="284.1"/>
<rect x="307.77" y="1830.7" width="34" height="280.5"/>
<rect x="360.36" y="1827.9" width="34" height="283.3"/>
<rect x="412.95" y="1821.7" width="34" height="289.5"/>
<rect x="465.54" y="1828.9" width="34" height="282.3"/>
<rect x="518.13" y="1832.7" width="34" height="278.5"/>
<rect x="570.72" y="1836.7" width="34" height="274.5"/>
<rect x="623.31" y="1822.3" width="34" height="288.9"/>
</g>
<path class="l" d="M158.5 1820.4H175.5M158.5 1833.7H175.5M167 1820.4V1833.7M211.09 1822.3H228.09M211.09 1833.9H228.09M219.59 1822.3V1833.9M263.68 1823.5H280.68M263.68 1829H280.68M272.18 1823.5V1829M316.27 1826.7H333.27M316.27 1833.3H333.27M324.77 1826.7V1833.3M368.86 1824.3H385.86M368.86 1830.1H385.86M377.36 1824.3V1830.1M421.45 1811.4H438.45M421.45 1830.9H438.45M429.95 1811.4V1830.9M474.04 1817.8H491.04M474.04 1839H491.04M482.54 1817.8V1839M526.63 1829.7H543.63M526.63 1834.1H543.63M535.13 1829.7V1834.1M579.22 1831.3H596.22M579.22 1839.6H596.22M587.72 1831.3V1839.6M631.81 1814.2H648.81M631.81 1829.7H648.81M640.31 1814.2V1829.7" stroke-width="1.5"/>
<path class="l" d="M131.8 1747.1V2113M116.7 2111.2H676M116.7 1748.9H131.8M116.7 1869.67H131.8M116.7 1990.43H131.8M167 2111.2V2126.5M219.59 2111.2V2126.5M272.18 2111.2V2126.5M324.77 2111.2V2126.5M377.36 2111.2V2126.5M429.95 2111.2V2126.5M482.54 2111.2V2126.5M535.13 2111.2V2126.5M587.72 2111.2V2126.5M640.31 2111.2V2126.5" stroke-width="3.6"/>
<text transform="translate(112.3 1756)" font-size="22" text-anchor="end">0.60</text>
<text transform="translate(112.3 1876.77)" font-size="22" text-anchor="end">0.40</text>
<text transform="translate(112.3 1997.53)" font-size="22" text-anchor="end">0.20</text>
<text transform="translate(112.3 2118.3)" font-size="22" text-anchor="end">0.00</text>
<text transform="translate(167 2150.25) scale(0.94 1)" font-size="21.5" text-anchor="middle">T1</text>
<text transform="translate(219.59 2150.25) scale(0.94 1)" font-size="21.5" text-anchor="middle">T2</text>
<text transform="translate(272.18 2150.25) scale(0.94 1)" font-size="21.5" text-anchor="middle">T3</text>
<text transform="translate(324.77 2150.25) scale(0.94 1)" font-size="21.5" text-anchor="middle">T4</text>
<text transform="translate(377.36 2150.25) scale(0.94 1)" font-size="21.5" text-anchor="middle">T5</text>
<text transform="translate(429.95 2150.25) scale(0.94 1)" font-size="21.5" text-anchor="middle">T6</text>
<text transform="translate(482.54 2150.25) scale(0.94 1)" font-size="21.5" text-anchor="middle">T7</text>
<text transform="translate(535.13 2150.25) scale(0.94 1)" font-size="21.5" text-anchor="middle">T8</text>
<text transform="translate(587.72 2150.25) scale(0.94 1)" font-size="21.5" text-anchor="middle">T9</text>
<text transform="translate(640.31 2150.25) scale(1.05 1)" font-size="21.5" text-anchor="middle">CK</text>
<text transform="translate(167 1812.8)" font-size="19.5" text-anchor="middle">a</text>
<text transform="translate(219.59 1814.8)" font-size="19.5" text-anchor="middle">a</text>
<text transform="translate(272.18 1816.4)" font-size="19.5" text-anchor="middle">a</text>
<text transform="translate(324.77 1818.8)" font-size="19.5" text-anchor="middle">a</text>
<text transform="translate(377.36 1818.8)" font-size="19.5" text-anchor="middle">a</text>
<text transform="translate(429.95 1806.8)" font-size="19.5" text-anchor="middle">a</text>
<text transform="translate(482.54 1812.8)" font-size="19.5" text-anchor="middle">a</text>
<text transform="translate(535.13 1820.8)" font-size="19.5" text-anchor="middle">a</text>
<text transform="translate(587.72 1824.1)" font-size="19.5" text-anchor="middle">a</text>
<text transform="translate(640.31 1807.2)" font-size="19.5" text-anchor="middle">a</text>
<text transform="translate(39.1 1745.4) scale(0.9 1)" font-size="28">I</text>
<text transform="translate(371 1764) scale(0.95 1)" font-size="29" text-anchor="middle">J8031</text>
<g transform="translate(25.5 1933.5) rotate(-90)">
<text transform="translate(-47.75 0)" font-size="23.5" textLength="48.7" lengthAdjust="spacingAndGlyphs">C12:0</text>
<text transform="translate(1.05 -2.2)" font-size="23.2">含</text>
<text transform="translate(24.25 -2.2)" font-size="23.2">量</text>
</g>
<g transform="translate(58.1 1931.2) rotate(-90)">
<text transform="translate(-100.95 0)" font-size="23.5" textLength="175.7" lengthAdjust="spacingAndGlyphs">C12:0 content/(mg·g</text>
<text transform="translate(75.85 -10)" font-size="17.5">-</text>
<text transform="translate(84.75 -10)" font-size="17.5">1</text>
<text transform="translate(93.55 -1.5) scale(1.4 1)" font-size="18.5">)</text>
</g>
</g>
<g id="pJ">
<g fill="#eecbf8" stroke="#000" stroke-width="1.7">
<rect x="831" y="1808.7" width="33.2" height="294.3"/>
<rect x="882.48" y="1815.7" width="33.2" height="287.3"/>
<rect x="933.96" y="1814.7" width="33.2" height="288.3"/>
<rect x="985.44" y="1814.7" width="33.2" height="288.3"/>
<rect x="1036.92" y="1823.2" width="33.2" height="279.8"/>
<rect x="1088.4" y="1810.1" width="33.2" height="292.9"/>
<rect x="1139.88" y="1824.6" width="33.2" height="278.4"/>
<rect x="1191.36" y="1824.6" width="33.2" height="278.4"/>
<rect x="1242.84" y="1811.7" width="33.2" height="291.3"/>
<rect x="1294.32" y="1821.2" width="33.2" height="281.8"/>
</g>
<path class="l" d="M839.1 1786.2H856.1M839.1 1829.6H856.1M847.6 1786.2V1829.6M890.58 1811.1H907.58M890.58 1819H907.58M899.08 1811.1V1819M942.06 1807.3H959.06M942.06 1819.6H959.06M950.56 1807.3V1819.6M993.54 1811.3H1010.54M993.54 1816.3H1010.54M1002.04 1811.3V1816.3M1045.02 1814.3H1062.02M1045.02 1829H1062.02M1053.52 1814.3V1829M1096.5 1804.1H1113.5M1096.5 1814H1113.5M1105 1804.1V1814M1147.98 1822.2H1164.98M1147.98 1825.5H1164.98M1156.48 1822.2V1825.5M1199.46 1810.7H1216.46M1199.46 1836.9H1216.46M1207.96 1810.7V1836.9M1250.94 1805.3H1267.94M1250.94 1816.7H1267.94M1259.44 1805.3V1816.7M1302.42 1807.9H1319.42M1302.42 1832.2H1319.42M1310.92 1807.9V1832.2" stroke-width="1.5"/>
<path class="l" d="M813 1746.95V2104.8M798.2 2103H1348M798.2 1748.75H813M798.2 1866.83H813M798.2 1984.92H813M847.6 2103V2118.1M899.08 2103V2118.1M950.56 2103V2118.1M1002.04 2103V2118.1M1053.52 2103V2118.1M1105 2103V2118.1M1156.48 2103V2118.1M1207.96 2103V2118.1M1259.44 2103V2118.1M1310.92 2103V2118.1" stroke-width="3.6"/>
<text transform="translate(794 1755.85)" font-size="22" text-anchor="end">0.60</text>
<text transform="translate(794 1873.93)" font-size="22" text-anchor="end">0.40</text>
<text transform="translate(794 1992.02)" font-size="22" text-anchor="end">0.20</text>
<text transform="translate(794 2110.1)" font-size="22" text-anchor="end">0.00</text>
<text transform="translate(847.6 2141.5) scale(0.94 1)" font-size="21.5" text-anchor="middle">T1</text>
<text transform="translate(899.08 2141.5) scale(0.94 1)" font-size="21.5" text-anchor="middle">T2</text>
<text transform="translate(950.56 2141.5) scale(0.94 1)" font-size="21.5" text-anchor="middle">T3</text>
<text transform="translate(1002.04 2141.5) scale(0.94 1)" font-size="21.5" text-anchor="middle">T4</text>
<text transform="translate(1053.52 2141.5) scale(0.94 1)" font-size="21.5" text-anchor="middle">T5</text>
<text transform="translate(1105 2141.5) scale(0.94 1)" font-size="21.5" text-anchor="middle">T6</text>
<text transform="translate(1156.48 2141.5) scale(0.94 1)" font-size="21.5" text-anchor="middle">T7</text>
<text transform="translate(1207.96 2141.5) scale(0.94 1)" font-size="21.5" text-anchor="middle">T8</text>
<text transform="translate(1259.44 2141.5) scale(0.94 1)" font-size="21.5" text-anchor="middle">T9</text>
<text transform="translate(1310.92 2141.5) scale(1.05 1)" font-size="21.5" text-anchor="middle">CK</text>
<text transform="translate(847.6 1779.9)" font-size="19.5" text-anchor="middle">a</text>
<text transform="translate(899.08 1803.3)" font-size="19.5" text-anchor="middle">a</text>
<text transform="translate(950.56 1803.1)" font-size="19.5" text-anchor="middle">a</text>
<text transform="translate(1002.04 1802.3)" font-size="19.5" text-anchor="middle">a</text>
<text transform="translate(1053.52 1805.3)" font-size="19.5" text-anchor="middle">a</text>
<text transform="translate(1105 1796.8)" font-size="19.5" text-anchor="middle">a</text>
<text transform="translate(1156.48 1814.7)" font-size="19.5" text-anchor="middle">a</text>
<text transform="translate(1207.96 1802.7)" font-size="19.5" text-anchor="middle">a</text>
<text transform="translate(1259.44 1799.8)" font-size="19.5" text-anchor="middle">a</text>
<text transform="translate(1310.92 1799.8)" font-size="19.5" text-anchor="middle">a</text>
<text transform="translate(723.45 1745.6) scale(0.9 1)" font-size="28">J</text>
<text transform="translate(953 1761.8)" font-size="24.3">源</text>
<text transform="translate(977.3 1761.8)" font-size="24.3">棉</text>
<text transform="translate(1009.2 1763) scale(0.92 1)" font-size="29">8</text>
<text transform="translate(1021.6 1761.8)" font-size="24.3">号</text>
<text transform="translate(1054.3 1763) scale(1.05 1)" font-size="29">Yuanmian</text>
<text transform="translate(1186 1763) scale(0.92 1)" font-size="29">8</text>
<g transform="translate(708.6 1930.4) rotate(-90)">
<text transform="translate(-47.75 0)" font-size="23.5" textLength="48.7" lengthAdjust="spacingAndGlyphs">C12:0</text>
<text transform="translate(1.05 -2.2)" font-size="23.2">含</text>
<text transform="translate(24.25 -2.2)" font-size="23.2">量</text>
</g>
<g transform="translate(741.3 1928.8) rotate(-90)">
<text transform="translate(-100.95 0)" font-size="23.5" textLength="175.7" lengthAdjust="spacingAndGlyphs">C12:0 content/(mg·g</text>
<text transform="translate(75.85 -10)" font-size="17.5">-</text>
<text transform="translate(84.75 -10)" font-size="17.5">1</text>
<text transform="translate(93.55 -1.5) scale(1.4 1)" font-size="18.5">)</text>
</g>
</g>
</svg></body></html>
